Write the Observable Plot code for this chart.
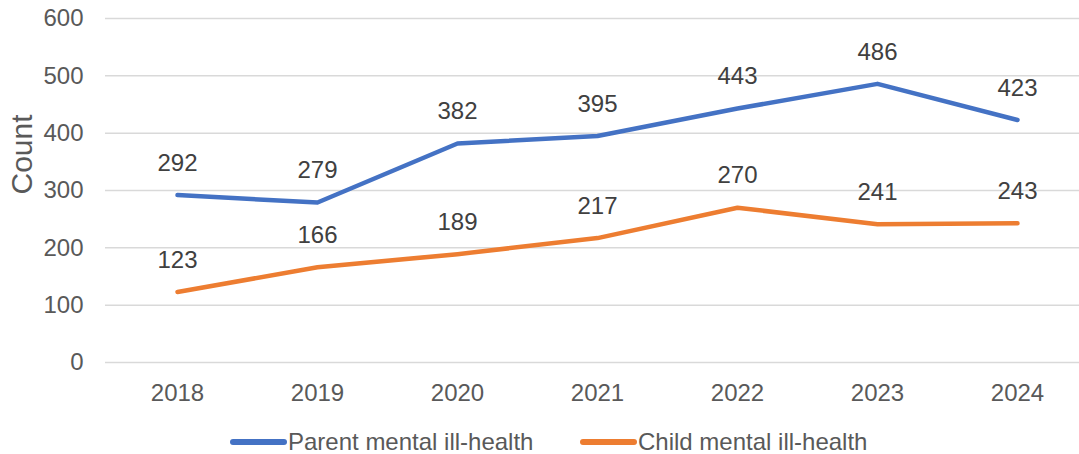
<!DOCTYPE html>
<html>
<head>
<meta charset="utf-8">
<script src="https://cdn.jsdelivr.net/npm/d3@7"></script>
<script src="https://cdn.jsdelivr.net/npm/@observablehq/plot@0.6"></script>
<style>
  html, body { margin: 0; padding: 0; background: #fff; }
  body { width: 1079px; font-family: "Liberation Sans", Arial, sans-serif; }
  #chart svg { display: block; }
  .legend { position: relative; height: 44px; width: 1079px; }
  .sw { position: absolute; height: 6px; border-radius: 3px; width: 57px; top: 29px; }
  .lt { position: absolute; top: 20px; font-size: 24px; line-height: 24px; color: #595959; white-space: nowrap; }
</style>
</head>
<body>
<div id="chart"></div>
<div class="legend" id="legend"></div>
<script>
const years = ["2018", "2019", "2020", "2021", "2022", "2023", "2024"];
const parentValues = [292, 279, 382, 395, 443, 486, 423];
const childValues = [123, 166, 189, 217, 270, 241, 243];
const seriesNames = ["Parent mental ill-health", "Child mental ill-health"];
const seriesColors = ["#4472C4", "#ED7D31"];
const yTicks = [0, 100, 200, 300, 400, 500, 600];

const rows = [];
years.forEach((yr, i) => {
  rows.push({year: yr, value: parentValues[i], series: seriesNames[0]});
  rows.push({year: yr, value: childValues[i], series: seriesNames[1]});
});

const chart = Plot.plot({
  width: 1079,
  height: 410,
  marginTop: 18,
  marginBottom: 48,
  marginLeft: 105,
  marginRight: 0,
  style: {fontSize: "24px", fontFamily: "'Liberation Sans', Arial, sans-serif", color: "#595959", background: "#fff"},
  x: {type: "point", domain: years, range: [175, 1019], padding: 0, tickSize: 0, tickPadding: 21, label: null},
  y: {domain: [0, 600], ticks: yTicks, tickSize: 0, tickPadding: 22, label: null},
  color: {domain: seriesNames, range: seriesColors},
  marks: [
    Plot.ruleY(yTicks, {stroke: "#d9d9d9", strokeWidth: 1.5}),
    Plot.line(rows, {x: "year", y: "value", z: "series", stroke: "series", strokeWidth: 4.5, strokeLinecap: "round", strokeLinejoin: "round"}),
    Plot.text(rows, {x: "year", y: "value", text: d => String(d.value), dy: -32, fill: "#404040"}),
    Plot.text(["Count"], {frameAnchor: "left", text: d => d, rotate: -90, dx: -83, dy: 4, fontSize: 30, fill: "#595959"})
  ]
});
document.getElementById("chart").appendChild(chart);

const legend = document.getElementById("legend");
const legendSwatchX = [230, 580];
const legendTextX = [288, 638];
seriesNames.forEach((name, i) => {
  const sw = document.createElement("div");
  sw.className = "sw";
  sw.style.left = legendSwatchX[i] + "px";
  sw.style.background = seriesColors[i];
  legend.appendChild(sw);
  const t = document.createElement("div");
  t.className = "lt";
  t.style.left = legendTextX[i] + "px";
  t.textContent = name;
  legend.appendChild(t);
});
</script>
</body>
</html>
